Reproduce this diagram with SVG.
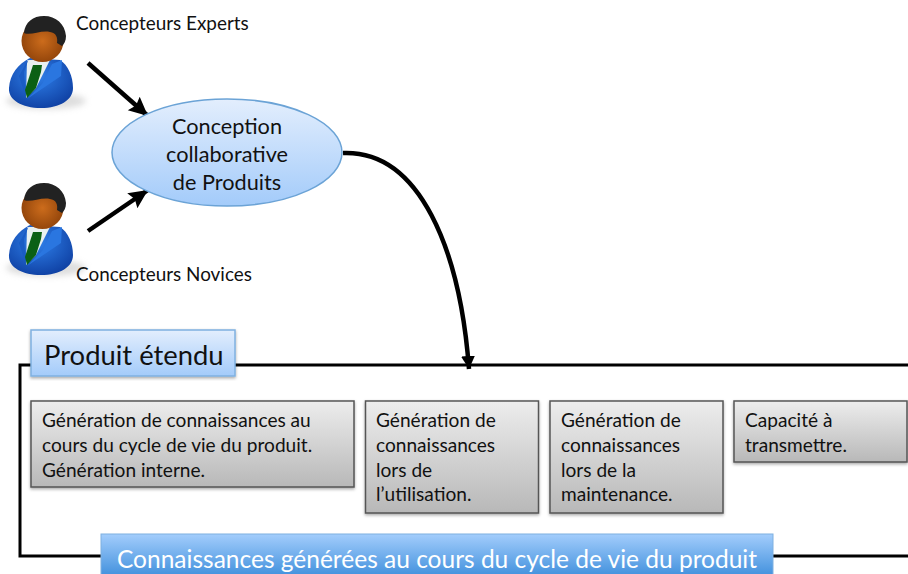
<svg xmlns="http://www.w3.org/2000/svg" width="908" height="574" viewBox="0 0 908 574">
<style>
text{font-family:Lato,"Open Sans","Liberation Sans",sans-serif;fill:#111}
.l{font-size:18.900px}
.t{font-size:19.100px}
.c{font-size:21.700px;text-anchor:middle}
.g{fill:url(#grey);stroke:#555;stroke-width:1.500;filter:url(#sh)}
.con{fill:none;stroke:#000;stroke-width:4.500}
.frame{fill:none;stroke:#000;stroke-width:3}
</style>
<defs>
<linearGradient id="grey" x1="0" y1="0" x2="0" y2="1"><stop offset="0" stop-color="#ededed"/><stop offset="1" stop-color="#b8b8b8"/></linearGradient>
<linearGradient id="lb" x1="0" y1="0" x2="0" y2="1"><stop offset="0" stop-color="#e3eefd"/><stop offset="1" stop-color="#a3cbfa"/></linearGradient>
<linearGradient id="mb" x1="0" y1="0" x2="0" y2="1"><stop offset="0" stop-color="#a3cdfc"/><stop offset="1" stop-color="#4291dd"/></linearGradient>
<radialGradient id="skin" cx=".5" cy=".5" r=".6"><stop offset="0" stop-color="#cc6c1c"/><stop offset="1" stop-color="#8a3f08"/></radialGradient>
<radialGradient id="suit" cx=".45" cy=".35" r=".75"><stop offset="0" stop-color="#2f80ea"/><stop offset="1" stop-color="#0c3a9c"/></radialGradient>
<filter id="sh" x="-5%" y="-5%" width="110%" height="115%"><feDropShadow dx="0" dy="1.500" stdDeviation="1.500" flood-color="#000" flood-opacity=".35"/></filter>
<filter id="soft" x="-20%" y="-40%" width="140%" height="180%"><feGaussianBlur stdDeviation="3"/></filter>
<marker id="ah" markerUnits="userSpaceOnUse" markerWidth="22" markerHeight="20" refX="19" refY="10" orient="auto"><path d="M0 1L19 10L0 19L3 10Z" fill="#000"/></marker>
<marker id="ah2" markerUnits="userSpaceOnUse" markerWidth="16" markerHeight="14" refX="13" refY="7" orient="auto"><path d="M0 0L13 7L0 14Z" fill="#000"/></marker>
<g id="person">
<ellipse cx="46" cy="101" rx="40" ry="8" fill="#bbb" opacity=".5" filter="url(#soft)"/>
<path d="M9 88C10 74 18 64 30 58L60 60C68 65 73 76 73 88C73 100 60 108 41 108C22 108 8 100 9 88Z" fill="url(#suit)"/>
<path d="M27 60L38 60H50L36 88L26 98Z" fill="#e8f0f0"/>
<path d="M29 58L24 72L26 98L19 76Z" fill="#1a5cc4"/>
<path d="M33 65H42L41 72L36 88L27 98L25 90Z" fill="#0b6015"/>
<path d="M62 60L61 76L27 99L42 84L52 64Z" fill="#2a76e0"/>
<circle cx="42.500" cy="41" r="21" fill="url(#skin)"/>
<path d="M24 33C25 22 33 16 44 16C56 16 65 24 66 36C66 41 64 44 62 46L57 43C58 37 56 33 50 32C41 30 30 36 24 33Z" fill="#222"/>
</g>
</defs>
<g id="connectors">
<path class="con" d="M88 63L148 116" marker-end="url(#ah)"/>
<path class="con" d="M88 231L148 190" marker-end="url(#ah)"/>
<path class="con" d="M343 153C420 150 460 250 469 369" marker-end="url(#ah2)"/>
<path class="frame" d="M908 365H20V556H908"/>
</g>
<g id="expert"><use href="#person"/><text x="76" y="30" class="l">Concepteurs Experts</text></g>
<g id="novice"><use href="#person" y="167"/><text x="76" y="281" class="l">Concepteurs Novices</text></g>
<g id="conception">
<ellipse cx="227" cy="152.500" rx="115" ry="53.500" fill="url(#lb)" stroke="#6ba3d6" stroke-width="1.500"/>
<text x="227" y="134" class="c">Conception</text>
<text x="227" y="162" class="c">collaborative</text>
<text x="227" y="190" class="c">de Produits</text>
</g>
<g id="produit">
<rect x="31" y="330" width="204" height="46" fill="url(#lb)" stroke="#7fb0e0" stroke-width="1.500" filter="url(#sh)"/>
<text x="44" y="365" font-size="27.400">Produit étendu</text>
</g>
<g id="box1">
<rect class="g" x="31" y="401" width="323" height="86"/>
<text x="42" y="427" class="t">Génération de connaissances au</text>
<text x="42" y="452" class="t">cours du cycle de vie du produit.</text>
<text x="42" y="477" class="t">Génération interne.</text>
</g>
<g id="box2">
<rect class="g" x="365.500" y="401" width="173" height="112"/>
<text x="376" y="427" class="t">Génération de</text>
<text x="376" y="452" class="t">connaissances</text>
<text x="376" y="477" class="t">lors de</text>
<text x="376" y="501" class="t">l’utilisation.</text>
</g>
<g id="box3">
<rect class="g" x="550" y="401" width="173" height="112"/>
<text x="561" y="427" class="t">Génération de</text>
<text x="561" y="452" class="t">connaissances</text>
<text x="561" y="477" class="t">lors de la</text>
<text x="561" y="501" class="t">maintenance.</text>
</g>
<g id="box4">
<rect class="g" x="734" y="401" width="173" height="61"/>
<text x="745" y="427" class="t">Capacité à</text>
<text x="745" y="452" class="t">transmettre.</text>
</g>
<g id="connaissances">
<rect x="101" y="534" width="672" height="42" fill="url(#mb)" stroke="#7fb0e0" stroke-width="1"/>
<text x="117" y="568" font-size="24.500" style="fill:#fff">Connaissances générées au cours du cycle de vie du produit</text>
</g>
</svg>
